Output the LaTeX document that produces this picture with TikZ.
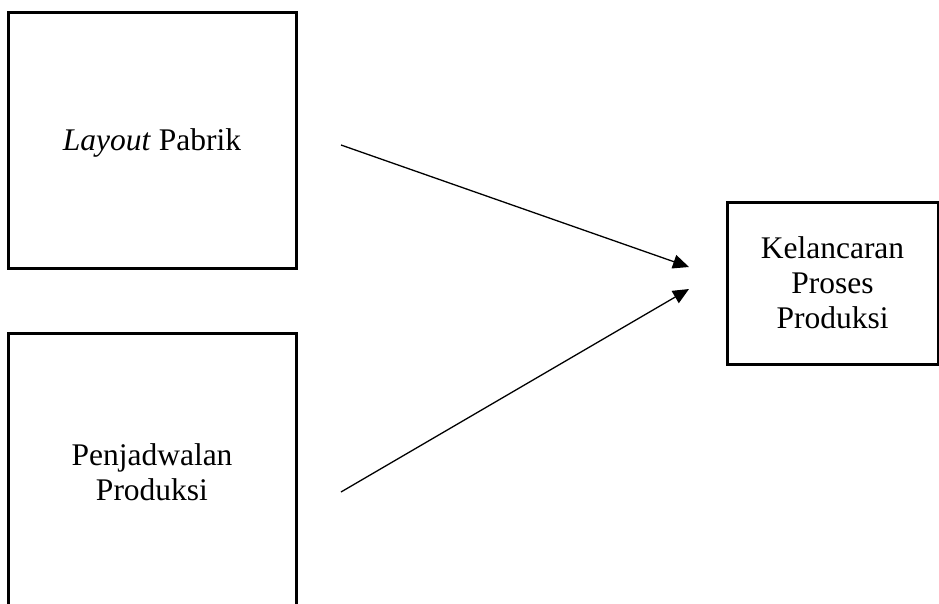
\documentclass[tikz,border=0pt]{standalone}
\usepackage{fontspec}
\setmainfont{Liberation Serif}
\usetikzlibrary{arrows.meta}
\begin{document}
\begin{tikzpicture}[x=1pt,y=-1pt,
  varbox/.style={draw, line width=3pt, align=center, inner sep=0pt,
    font=\fontsize{31.5}{35}\selectfont},
  flow/.style={line width=1.3pt, -{Triangle[length=16pt,width=14pt]}}]
  \useasboundingbox (0,0) rectangle (939,603);
  \clip (0,0) rectangle (939,603);

  % independent variables
  \node[varbox, text depth=0pt, minimum width=288pt, minimum height=256pt] (layout)
    at (152,140) {\textit{Layout} Pabrik};
  \node[varbox, minimum width=288pt, minimum height=278pt] (jadwal)
    at (152,472) {Penjadwalan\\Produksi};

  % dependent variable
  \node[varbox, minimum width=211pt, minimum height=162pt] (lancar)
    at (832.5,283) {Kelancaran\\Proses\\Produksi};

  % loose ends of the two influence arrows
  \coordinate (s1) at (341,145);
  \coordinate (t1) at (689,267);
  \coordinate (s2) at (341,492);
  \coordinate (t2) at (689,289);

  \draw[flow] (s1) -- (t1);
  \draw[flow] (s2) -- (t2);
\end{tikzpicture}
\end{document}
